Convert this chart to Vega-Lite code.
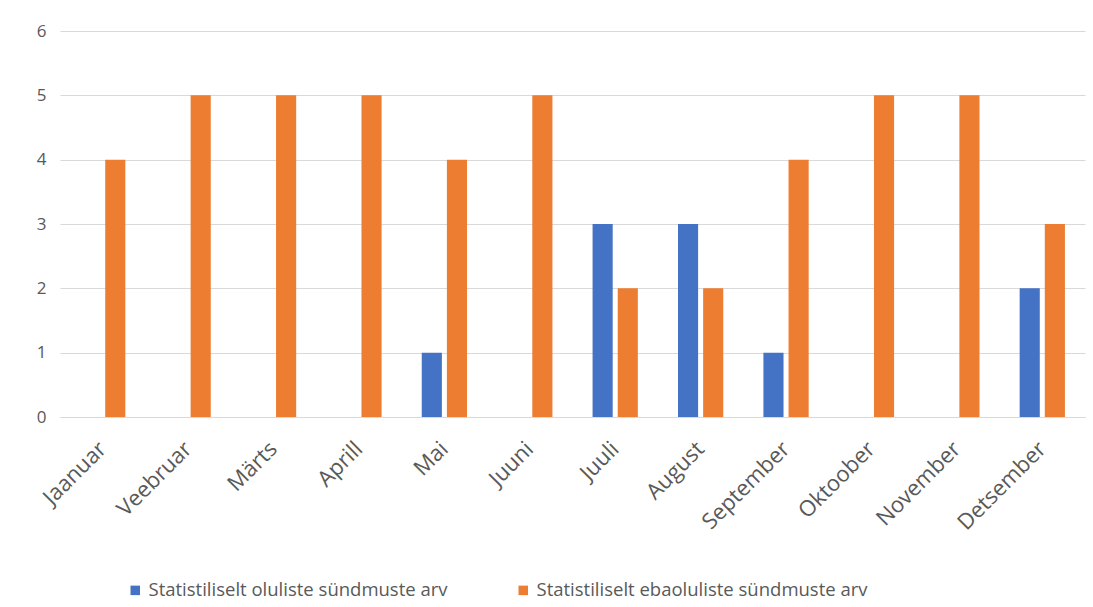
{
  "$schema": "https://vega.github.io/schema/vega-lite/v6.json",
  "width": 1025,
  "height": 386,
  "autosize": {"type": "none"},
  "padding": {"left": 60, "top": 31, "right": 8, "bottom": 190},
  "background": "white",
  "data": {
    "values": [
      {"kuu": "Jaanuar", "seeria": "Statistiliselt oluliste sündmuste arv", "v": 0},
      {"kuu": "Jaanuar", "seeria": "Statistiliselt ebaoluliste sündmuste arv", "v": 4},
      {"kuu": "Veebruar", "seeria": "Statistiliselt oluliste sündmuste arv", "v": 0},
      {"kuu": "Veebruar", "seeria": "Statistiliselt ebaoluliste sündmuste arv", "v": 5},
      {"kuu": "Märts", "seeria": "Statistiliselt oluliste sündmuste arv", "v": 0},
      {"kuu": "Märts", "seeria": "Statistiliselt ebaoluliste sündmuste arv", "v": 5},
      {"kuu": "Aprill", "seeria": "Statistiliselt oluliste sündmuste arv", "v": 0},
      {"kuu": "Aprill", "seeria": "Statistiliselt ebaoluliste sündmuste arv", "v": 5},
      {"kuu": "Mai", "seeria": "Statistiliselt oluliste sündmuste arv", "v": 1},
      {"kuu": "Mai", "seeria": "Statistiliselt ebaoluliste sündmuste arv", "v": 4},
      {"kuu": "Juuni", "seeria": "Statistiliselt oluliste sündmuste arv", "v": 0},
      {"kuu": "Juuni", "seeria": "Statistiliselt ebaoluliste sündmuste arv", "v": 5},
      {"kuu": "Juuli", "seeria": "Statistiliselt oluliste sündmuste arv", "v": 3},
      {"kuu": "Juuli", "seeria": "Statistiliselt ebaoluliste sündmuste arv", "v": 2},
      {"kuu": "August", "seeria": "Statistiliselt oluliste sündmuste arv", "v": 3},
      {"kuu": "August", "seeria": "Statistiliselt ebaoluliste sündmuste arv", "v": 2},
      {"kuu": "September", "seeria": "Statistiliselt oluliste sündmuste arv", "v": 1},
      {"kuu": "September", "seeria": "Statistiliselt ebaoluliste sündmuste arv", "v": 4},
      {"kuu": "Oktoober", "seeria": "Statistiliselt oluliste sündmuste arv", "v": 0},
      {"kuu": "Oktoober", "seeria": "Statistiliselt ebaoluliste sündmuste arv", "v": 5},
      {"kuu": "November", "seeria": "Statistiliselt oluliste sündmuste arv", "v": 0},
      {"kuu": "November", "seeria": "Statistiliselt ebaoluliste sündmuste arv", "v": 5},
      {"kuu": "Detsember", "seeria": "Statistiliselt oluliste sündmuste arv", "v": 2},
      {"kuu": "Detsember", "seeria": "Statistiliselt ebaoluliste sündmuste arv", "v": 3}
    ]
  },
  "mark": {"type": "bar"},
  "encoding": {
    "x": {
      "field": "kuu",
      "type": "nominal",
      "sort": null,
      "scale": {"paddingInner": 0.47, "paddingOuter": 0.235},
      "axis": {
        "title": null,
        "labelAngle": -45,
        "labelAlign": "right",
        "labelBaseline": "middle",
        "labelFontSize": 22,
        "labelColor": "#595959",
        "labelFont": "Open Sans",
        "domainColor": "#d9d9d9",
        "ticks": false,
        "labelPadding": 28
      }
    },
    "xOffset": {
      "field": "seeria",
      "type": "nominal",
      "sort": ["Statistiliselt oluliste sündmuste arv", "Statistiliselt ebaoluliste sündmuste arv"],
      "scale": {"paddingInner": 0.2, "paddingOuter": 0}
    },
    "y": {
      "field": "v",
      "type": "quantitative",
      "scale": {"domain": [0, 6], "nice": false},
      "axis": {
        "title": null,
        "values": [0, 1, 2, 3, 4, 5, 6],
        "labelOverlap": false,
        "domain": false,
        "ticks": false,
        "gridColor": "#d9d9d9",
        "labelFontSize": 17,
        "labelColor": "#595959",
        "labelFont": "Open Sans",
        "labelPadding": 14
      }
    },
    "color": {
      "field": "seeria",
      "type": "nominal",
      "sort": ["Statistiliselt oluliste sündmuste arv", "Statistiliselt ebaoluliste sündmuste arv"],
      "scale": {
        "domain": ["Statistiliselt oluliste sündmuste arv", "Statistiliselt ebaoluliste sündmuste arv"],
        "range": ["#4472C4", "#ED7D31"]
      },
      "legend": {
        "title": null,
        "orient": "none",
        "legendX": 66,
        "legendY": 550,
        "direction": "horizontal",
        "symbolType": "square",
        "symbolSize": 90,
        "labelFontSize": 18.5,
        "labelColor": "#595959",
        "labelFont": "Open Sans",
        "labelOffset": 4,
        "columnPadding": 66,
        "labelLimit": 500
      }
    }
  },
  "config": {"view": {"stroke": null}}
}
